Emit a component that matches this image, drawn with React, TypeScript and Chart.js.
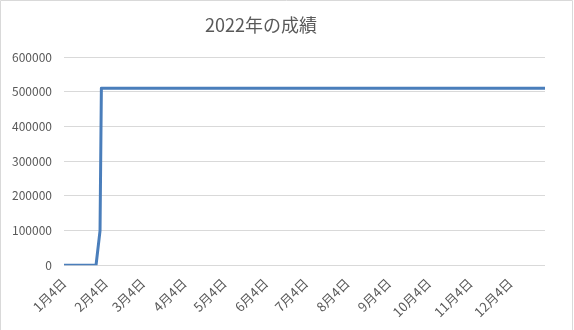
import React, { useEffect, useRef } from "react";
import { Chart, registerables } from "chart.js";

Chart.register(...registerables);

const TITLE = "2022年の成績";
const START_DATE = "2022-01-04";
const END_DATE = "2022-12-30";
const tickDates = [
  "2022-01-04", "2022-02-04", "2022-03-04", "2022-04-04", "2022-05-04", "2022-06-04",
  "2022-07-04", "2022-08-04", "2022-09-04", "2022-10-04", "2022-11-04", "2022-12-04",
];
const tickLabels = [
  "1月4日", "2月4日", "3月4日", "4月4日", "5月4日", "6月4日",
  "7月4日", "8月4日", "9月4日", "10月4日", "11月4日", "12月4日",
];
// breakpoints of the series (values constant between them)
const seriesDates = ["2022-01-04", "2022-01-28", "2022-01-31", "2022-02-01", "2022-12-30"];
const seriesValues = [0, 0, 100000, 510000, 510000];
const yTicks = [0, 100000, 200000, 300000, 400000, 500000, 600000];

const DAY = 86400000;
const dayIndex = (iso: string) => Math.round((Date.parse(iso + "T00:00:00Z") - Date.parse(START_DATE + "T00:00:00Z")) / DAY);

const FONT = '"Noto Sans CJK JP", "Noto Sans", sans-serif';
const GRAY = "#595959";

export default function App() {
  const ref = useRef<HTMLCanvasElement | null>(null);
  useEffect(() => {
    document.body.style.margin = "0";
    const canvas = ref.current!;
    const titlePlugin = {
      id: "customTitle",
      afterDraw(chart: any) {
        const ctx = chart.ctx;
        ctx.save();
        ctx.strokeStyle = "#d9d9d9";
        ctx.lineWidth = 1;
        ctx.beginPath();
        ctx.moveTo(0.5, 340);
        ctx.lineTo(0.5, 0.5);
        ctx.lineTo(572.5, 0.5);
        ctx.lineTo(572.5, 340);
        ctx.stroke();
        ctx.fillStyle = GRAY;
        ctx.font = `18px ${FONT}`;
        ctx.textAlign = "center";
        ctx.textBaseline = "middle";
        ctx.fillText(TITLE, 261, 25);
        ctx.restore();
      },
    };
    const chart = new Chart(canvas, {
      type: "line",
      data: {
        datasets: [
          {
            data: seriesDates.map((d, i) => ({ x: dayIndex(d), y: seriesValues[i] })),
            borderColor: "#4A7EBB",
            borderWidth: 3,
            pointRadius: 0,
            tension: 0,
            borderJoinStyle: "round",
            fill: false,
          },
        ],
      },
      options: {
        animation: false,
        responsive: false,
        devicePixelRatio: 1,
        layout: { padding: { top: 57, left: 0, right: 29, bottom: 8 } },
        plugins: { legend: { display: false }, tooltip: { enabled: false }, title: { display: false } },
        scales: {
          x: {
            type: "linear",
            min: dayIndex(START_DATE),
            max: dayIndex(END_DATE),
            grid: { display: false },
            border: { display: false },
            afterBuildTicks: (axis: any) => {
              axis.ticks = tickDates.map((d) => ({ value: dayIndex(d) }));
            },
            ticks: {
              autoSkip: false,
              minRotation: 45,
              maxRotation: 45,
              color: GRAY,
              font: { family: FONT, size: 13 },
              padding: 2,
              callback: (_v: any, i: number) => tickLabels[i],
            },
          },
          y: {
            min: 0,
            max: 600000,
            afterBuildTicks: (axis: any) => {
              axis.ticks = yTicks.map((v) => ({ value: v }));
            },
            grid: { color: "#d9d9d9", lineWidth: 1, drawTicks: false },
            border: { display: false },
            ticks: {
              color: GRAY,
              font: { family: FONT, size: 12 },
              padding: 12,
              callback: (v: any) => String(v),
            },
          },
        },
      },
      plugins: [titlePlugin],
    } as any);
    return () => chart.destroy();
  }, []);
  return <canvas ref={ref} width={574} height={330} style={{ display: "block" }} />;
}
